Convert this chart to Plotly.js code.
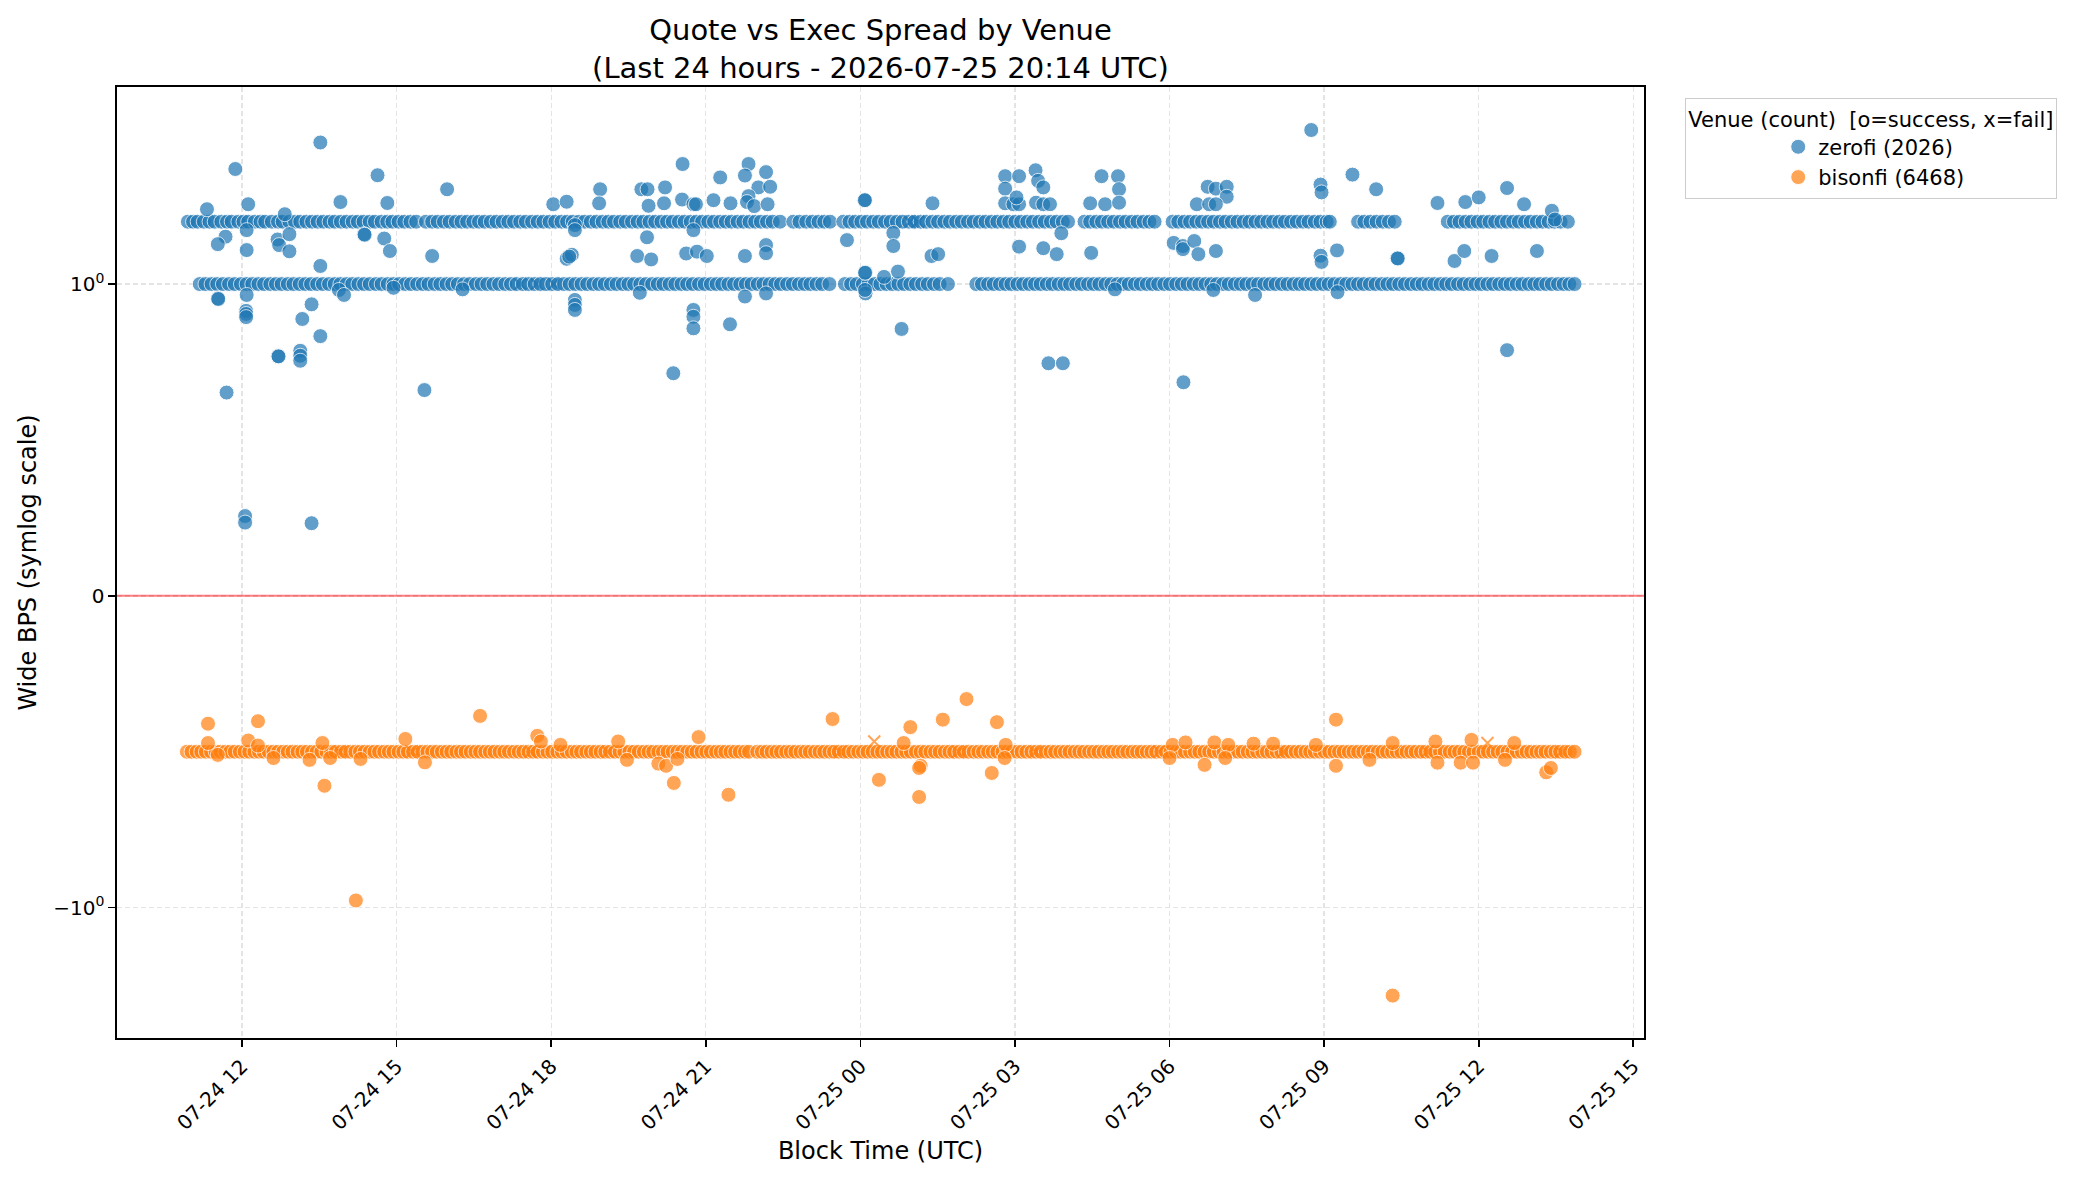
<!DOCTYPE html>
<html><head><meta charset="utf-8">
<script src="https://cdn.plot.ly/plotly-3.0.1.min.js"></script>
<style>html,body{margin:0;padding:0;background:#fff}#chart{width:2082px;height:1183px}</style>
</head><body><div id="chart"></div>
<script>
// Times are hours since 2026-07-24 00:00 UTC
const ZEROFI_LABEL = 'zerofi (2026)';
const BISONFI_LABEL = 'bisonfi (6468)';

const ZEROFI_HI_LEVEL = 1.2;
const ZEROFI_HI_TIMES = [10.95,11.05,11.14,11.26,11.37,11.47,11.60,11.71,11.80,11.93,12.03,12.12,12.25,12.36,12.45,12.58,12.70,12.79,12.92,13.03,13.13,13.25,13.36,13.47,13.58,13.70,13.80,13.92,14.03,14.15,14.25,14.36,14.48,14.58,14.71,14.82,14.92,15.04,15.15,15.27,15.38,
15.57,15.69,15.80,15.92,16.03,16.15,16.26,16.37,16.49,16.60,16.71,16.83,16.94,17.06,17.17,17.28,17.40,17.51,17.63,17.74,17.85,17.97,18.08,18.20,18.31,18.42,18.54,18.65,18.77,18.88,19.00,19.11,19.22,19.34,19.45,19.57,19.68,19.79,19.91,20.02,20.14,20.25,20.36,20.48,20.59,20.71,20.82,20.93,21.05,21.16,21.28,21.39,21.50,21.62,21.73,21.85,21.96,22.07,22.19,22.30,22.44,
22.70,22.82,22.95,23.07,23.19,23.30,23.41,
23.67,23.79,23.90,24.02,24.13,24.25,24.36,24.48,24.59,24.71,24.82,24.94,25.05,25.17,25.28,25.40,25.51,25.63,25.74,25.86,25.97,26.09,26.20,26.32,26.43,26.55,26.66,26.78,26.89,27.01,27.12,27.24,27.35,27.47,27.58,27.70,27.81,27.93,28.03,
28.35,28.46,28.58,28.69,28.81,28.92,29.04,29.15,29.27,29.38,29.50,29.61,29.71,
30.06,30.17,30.29,30.40,30.52,30.63,30.75,30.86,30.98,31.09,31.21,31.32,31.44,31.55,31.67,31.78,31.90,32.01,32.13,32.24,32.36,32.47,32.59,32.70,32.82,32.93,33.05,33.11,
33.66,33.78,33.90,34.02,34.14,34.26,34.37,
35.40,35.52,35.63,35.75,35.86,35.98,36.09,36.21,36.32,36.44,36.55,36.67,36.78,36.90,37.01,37.13,37.24,37.36,37.47,37.59,37.73];

const ZEROFI_LO_LEVEL = 1.0;
const ZEROFI_LO_TIMES = [11.18,11.29,11.41,11.52,11.63,11.75,11.86,11.98,12.09,12.20,12.32,12.43,12.55,12.66,12.77,12.89,13.00,13.12,13.23,13.34,13.46,13.57,13.69,13.80,13.91,14.03,14.14,14.26,14.37,14.48,14.60,14.71,14.83,14.94,15.05,15.17,15.28,15.40,15.51,15.62,15.74,15.85,15.97,16.08,16.19,16.31,16.42,16.54,16.65,16.76,16.88,16.99,17.11,17.22,17.33,17.45,17.56,17.68,17.79,17.90,18.02,18.13,18.25,18.36,18.47,18.59,18.70,18.82,18.93,19.04,19.16,19.27,19.39,19.50,19.61,19.73,19.84,19.96,20.07,20.18,20.30,20.41,20.53,20.64,20.75,20.87,20.98,21.10,21.21,21.32,21.44,21.55,21.67,21.78,21.89,22.01,22.12,22.24,22.35,22.46,22.58,22.69,22.81,22.92,23.03,23.15,23.26,23.40,23.70,23.82,23.93,24.05,24.16,24.28,24.39,24.51,24.62,24.74,24.85,24.97,25.08,25.20,25.31,25.43,25.54,25.70,
26.25,26.36,26.48,26.59,26.71,26.82,26.93,27.05,27.16,27.28,27.39,27.50,27.62,27.73,27.85,27.96,28.07,28.19,28.30,28.42,28.53,28.64,28.76,28.87,28.99,29.10,29.21,29.33,29.44,29.56,29.67,29.78,29.90,30.01,30.13,30.24,30.35,30.47,30.58,30.70,30.81,30.92,31.04,31.15,31.27,31.38,31.49,31.61,31.72,31.84,31.95,32.06,32.18,32.29,32.41,32.52,32.63,32.75,32.86,32.98,33.09,33.20,33.32,33.43,33.55,33.66,33.77,33.89,34.00,34.12,34.23,34.34,34.46,34.57,34.69,34.80,34.91,35.03,35.14,35.26,35.37,35.48,35.60,35.71,35.83,35.94,36.05,36.17,36.28,36.40,36.51,36.62,36.74,36.85,36.97,37.08,37.19,37.31,37.42,37.54,37.65,37.76,37.86];

const ZEROFI_OUT_T = [13.52,11.87,14.63,15.98,11.32,12.12,13.91,14.82,12.83,11.68,11.53,12.09,12.09,12.69,12.72,12.92,12.92,14.37,14.38,14.76,14.87,15.69,13.52,11.53,11.54,12.09,12.08,12.08,12.08,13.35,13.17,13.52,12.70,12.71,13.13,13.13,13.13,11.70,15.54,13.88,13.98,14.94,16.28,12.06,12.06,13.35,
20.55,21.83,21.28,21.76,22.17,18.95,19.75,19.87,20.21,22.02,22.25,18.04,18.30,18.93,19.89,20.19,20.54,20.76,20.81,21.15,21.48,21.83,21.80,21.94,22.20,24.08,18.46,18.46,20.76,19.86,23.74,19.67,19.94,18.30,18.40,18.35,20.62,20.83,21.02,21.76,22.17,22.17,24.10,18.46,18.46,18.46,19.72,20.76,20.76,20.76,21.47,21.76,20.37,24.10,22.17,
26.81,27.08,27.40,28.68,29.00,26.81,27.45,27.55,29.02,30.74,30.90,31.11,31.11,24.09,25.40,26.81,26.97,27.08,27.03,27.41,27.55,27.68,28.46,28.75,29.02,30.53,30.77,30.90,24.64,24.64,25.38,25.51,27.08,27.55,27.81,27.90,28.48,30.08,30.26,30.26,30.48,30.56,30.90,24.09,24.73,24.46,24.09,28.94,30.85,31.66,24.80,27.65,27.93,30.27,
32.75,33.55,34.01,32.93,32.95,35.20,35.74,36.00,36.55,36.88,37.42,37.48,33.25,32.93,32.95,34.42,34.43,35.53,35.72,36.25,37.13,33.26,36.55];
const ZEROFI_OUT_V = [1.454,1.369,1.349,1.304,1.240,1.256,1.263,1.260,1.224,1.152,1.128,1.173,1.109,1.143,1.125,1.160,1.105,1.160,1.158,1.146,1.106,1.090,1.058,0.954,0.952,0.965,0.914,0.904,0.894,0.935,0.888,0.833,0.769,0.768,0.786,0.770,0.754,0.652,0.660,0.981,0.965,0.988,0.983,0.256,0.235,0.233,
1.385,1.385,1.342,1.348,1.359,1.304,1.304,1.304,1.310,1.310,1.312,1.256,1.264,1.259,1.251,1.259,1.271,1.256,1.256,1.269,1.259,1.282,1.263,1.250,1.256,1.269,1.189,1.173,1.173,1.150,1.141,1.090,1.079,1.081,1.094,1.088,1.098,1.104,1.090,1.090,1.125,1.099,1.037,0.949,0.933,0.917,0.972,0.917,0.895,0.858,0.871,0.960,0.714,0.970,0.970,
1.346,1.346,1.365,1.346,1.346,1.306,1.331,1.310,1.304,1.312,1.306,1.312,1.280,1.269,1.259,1.259,1.256,1.256,1.278,1.261,1.256,1.256,1.259,1.256,1.261,1.256,1.256,1.256,1.164,1.122,1.090,1.096,1.120,1.115,1.096,1.163,1.100,1.132,1.122,1.112,1.138,1.096,1.106,1.036,1.040,1.023,0.981,0.983,0.981,0.965,0.856,0.746,0.746,0.685,
1.494,1.351,1.304,1.319,1.294,1.260,1.263,1.278,1.308,1.256,1.235,1.207,1.108,1.091,1.071,1.083,1.082,1.074,1.106,1.090,1.106,0.974,0.788];

const BISONFI_LEVEL = -0.5;
const BISONFI_TIMES = [10.93,11.02,11.12,11.21,11.30,11.40,11.49,11.58,11.68,11.77,11.86,11.96,12.05,12.14,12.24,12.33,12.42,12.52,12.61,12.70,12.80,12.89,12.98,13.08,13.17,13.26,13.36,13.45,13.54,13.64,13.73,13.82,13.92,14.01,14.10,14.20,14.29,14.38,14.48,14.57,14.66,14.76,14.85,14.94,15.04,15.13,15.22,15.32,15.41,15.50,15.60,15.69,15.78,15.88,15.97,16.06,16.16,16.25,16.34,16.44,16.53,16.62,16.72,16.81,16.90,17.00,17.09,17.18,17.28,17.37,17.46,17.56,17.65,17.74,17.84,17.93,18.02,18.12,18.21,18.30,18.40,18.49,18.58,18.68,18.77,18.86,18.96,19.05,19.14,19.24,19.33,19.42,19.52,19.61,19.70,19.80,19.89,19.98,20.08,20.17,20.26,20.36,20.45,20.54,20.64,20.73,20.82,20.92,21.01,21.10,21.20,21.29,21.38,21.48,21.57,21.66,21.76,21.84,
22.00,22.09,22.18,22.28,22.37,22.46,22.56,22.65,22.74,22.84,22.93,23.02,23.12,23.21,23.30,23.40,23.49,23.58,23.68,23.77,23.86,23.96,24.05,24.14,24.24,24.33,24.42,24.52,24.61,24.70,24.80,24.89,24.98,25.08,25.17,25.26,25.36,25.45,25.54,25.64,25.73,25.82,25.92,26.01,26.10,26.20,26.29,26.38,26.48,26.57,26.66,26.76,26.85,26.94,27.04,27.13,27.22,27.32,27.41,27.50,27.60,27.69,27.78,27.88,27.97,28.06,28.16,28.25,28.34,28.44,28.53,28.62,28.72,28.81,28.90,29.00,29.09,29.18,29.28,29.37,29.46,29.56,29.65,29.74,29.84,29.93,30.02,30.12,30.21,30.30,30.40,30.49,30.58,30.68,30.77,30.86,30.96,31.05,31.14,31.24,31.33,31.42,31.52,31.61,31.70,31.80,31.89,31.98,32.08,32.17,32.26,32.36,32.45,32.54,32.64,32.73,32.82,32.92,33.01,33.10,33.20,33.29,33.38,33.48,33.57,33.66,33.76,33.85,33.94,34.04,34.13,34.22,34.32,34.41,34.50,34.60,34.69,34.78,34.88,34.97,35.06,35.16,35.25,35.34,35.44,35.53,35.62,35.72,35.81,35.90,36.00,36.09,36.18,36.28,36.37,36.46,36.56,36.65,36.74,36.84,36.93,37.02,37.12,37.21,37.30,37.40,37.49,37.58,37.68,37.77,37.86];

const BISONFI_OUT_T = [11.34,12.31,11.34,12.12,12.31,11.53,12.61,13.31,13.56,13.71,13.60,14.30,15.17,15.55,16.62,17.73,17.80,18.18,19.30,19.47,20.08,20.23,20.38,20.45,20.86,14.21,
21.44,23.46,24.36,24.97,24.84,25.17,25.14,25.14,25.60,26.06,26.65,26.55,26.82,26.80,
33.23,33.23,30.68,34.33,37.31,37.40,30.06,30.31,30.87,31.14,31.63,32.01,32.84,34.33,35.16,35.86,36.69,30.00,31.08,33.88,35.20,35.65,35.89,36.51];
const BISONFI_OUT_V = [-0.410,-0.402,-0.472,-0.464,-0.480,-0.510,-0.520,-0.526,-0.472,-0.520,-0.609,-0.523,-0.459,-0.534,-0.385,-0.449,-0.467,-0.478,-0.467,-0.526,-0.538,-0.545,-0.600,-0.523,-0.453,-0.977,
-0.638,-0.395,-0.590,-0.421,-0.472,-0.545,-0.552,-0.645,-0.397,-0.331,-0.405,-0.568,-0.478,-0.520,
-0.397,-0.545,-0.542,-1.282,-0.566,-0.552,-0.478,-0.470,-0.470,-0.478,-0.474,-0.474,-0.478,-0.472,-0.467,-0.462,-0.472,-0.520,-0.520,-0.526,-0.535,-0.535,-0.535,-0.526];

const ZEROFI_FAIL_T = [17.40,17.72,18.05,24.96,25.12];
const ZEROFI_FAIL_V = [1.0,1.0,1.0,1.2,1.2];
const BISONFI_FAIL_T = [13.90,15.30,17.60,19.10,23.60,24.27,25.90,27.40,29.80,32.20,35.00,36.17,37.60];
const BISONFI_FAIL_V = [-0.5,-0.5,-0.5,-0.5,-0.5,-0.467,-0.5,-0.5,-0.5,-0.5,-0.5,-0.472,-0.5];

const X_RANGE_H = [9.574, 39.208];
const Y_RANGE = [-1.418, 1.632];
const Y_TICK_VALS = [-1, 0, 1];
const Y_TICK_TEXT = ['\u221210<sup>0</sup>', '0', '10<sup>0</sup>'];

function toDate(h) {
  const ms = Date.UTC(2026, 6, 24) + Math.round(h * 3600000);
  return new Date(ms).toISOString().slice(0, 19).replace('T', ' ');
}
const BLUE = '#1f77b4', ORANGE = '#ff7f0e';
const FONT = 'DejaVu Sans, sans-serif';

const zx = ZEROFI_HI_TIMES.concat(ZEROFI_LO_TIMES, ZEROFI_OUT_T).map(toDate);
const zy = ZEROFI_HI_TIMES.map(() => ZEROFI_HI_LEVEL).concat(ZEROFI_LO_TIMES.map(() => ZEROFI_LO_LEVEL), ZEROFI_OUT_V);
const bx = BISONFI_TIMES.concat(BISONFI_OUT_T).map(toDate);
const by = BISONFI_TIMES.map(() => BISONFI_LEVEL).concat(BISONFI_OUT_V);

function okMarker(c) { return {color: c, size: 15, opacity: 0.7, line: {color: 'white', width: 1}}; }
function failMarker(c) { return {color: c, size: 12, opacity: 0.7, symbol: 'x-thin', line: {color: c, width: 2}}; }

const traces = [
  {type: 'scatter', mode: 'markers', name: ZEROFI_LABEL, x: zx, y: zy, marker: okMarker(BLUE)},
  {type: 'scatter', mode: 'markers', name: ZEROFI_LABEL + ' fail', showlegend: false, x: ZEROFI_FAIL_T.map(toDate), y: ZEROFI_FAIL_V, marker: failMarker(BLUE)},
  {type: 'scatter', mode: 'markers', name: BISONFI_LABEL, x: bx, y: by, marker: okMarker(ORANGE)},
  {type: 'scatter', mode: 'markers', name: BISONFI_LABEL + ' fail', showlegend: false, x: BISONFI_FAIL_T.map(toDate), y: BISONFI_FAIL_V, marker: failMarker(ORANGE)}
];

const gridCol = '#e4e4e4';
const layout = {
  width: 2082, height: 1183,
  margin: {l: 117, r: 438, t: 87, b: 144.5, pad: 0},
  paper_bgcolor: '#fff', plot_bgcolor: '#fff',
  font: {family: FONT, size: 20, color: '#000'},
  title: {
    text: 'Quote vs Exec Spread by Venue<br>(Last 24 hours - 2026-07-25 20:14 UTC)',
    font: {family: FONT, size: 29, color: '#000'},
    xref: 'paper', x: 0.5, xanchor: 'center',
    yref: 'paper', y: 1, yanchor: 'bottom', pad: {b: 47}
  },
  xaxis: {
    type: 'date', range: X_RANGE_H.map(toDate),
    tick0: '2026-07-24 00:00:00', dtick: 3 * 3600000, tickformat: '%m-%d %H',
    tickangle: -45, ticks: 'outside', ticklen: 7, tickwidth: 1.6, tickcolor: '#000',
    showline: true, mirror: true, linecolor: '#000', linewidth: 1.6,
    showgrid: true, gridcolor: gridCol, gridwidth: 1.3, griddash: '5px,3px',
    zeroline: false, tickfont: {family: FONT, size: 20, color: '#000'},
    title: {text: 'Block Time (UTC)', font: {family: FONT, size: 24, color: '#000'}, standoff: 8},
    automargin: false
  },
  yaxis: {
    range: Y_RANGE, tickmode: 'array', tickvals: Y_TICK_VALS, ticktext: Y_TICK_TEXT,
    ticks: 'outside', ticklen: 7, tickwidth: 1.6, tickcolor: '#000',
    showline: true, mirror: true, linecolor: '#000', linewidth: 1.6,
    showgrid: true, gridcolor: gridCol, gridwidth: 1.3, griddash: '5px,3px',
    zeroline: false, tickfont: {family: FONT, size: 20, color: '#000'},
    title: {text: 'Wide BPS (symlog scale)', font: {family: FONT, size: 24, color: '#000'}, standoff: 10},
    automargin: false
  },
  shapes: [{type: 'line', xref: 'paper', x0: 0, x1: 1, yref: 'y', y0: 0, y1: 0,
    line: {color: 'rgba(255,0,0,0.5)', width: 2}, layer: 'above'}],
  legend: {
    x: 1.0268, y: 0.9884, xanchor: 'left', yanchor: 'top',
    bgcolor: 'rgba(255,255,255,0.8)', bordercolor: '#cccccc', borderwidth: 1.3,
    font: {family: FONT, size: 21, color: '#000'},
    title: {text: 'Venue (count)\u00a0 [o=success, x=fail]', side: 'top center', font: {family: FONT, size: 21, color: '#000'}},
    indentation: 92, tracegroupgap: 0
  },
  showlegend: true
};

Plotly.newPlot('chart', traces, layout, {displayModeBar: false, staticPlot: true});
</script>
</body></html>
